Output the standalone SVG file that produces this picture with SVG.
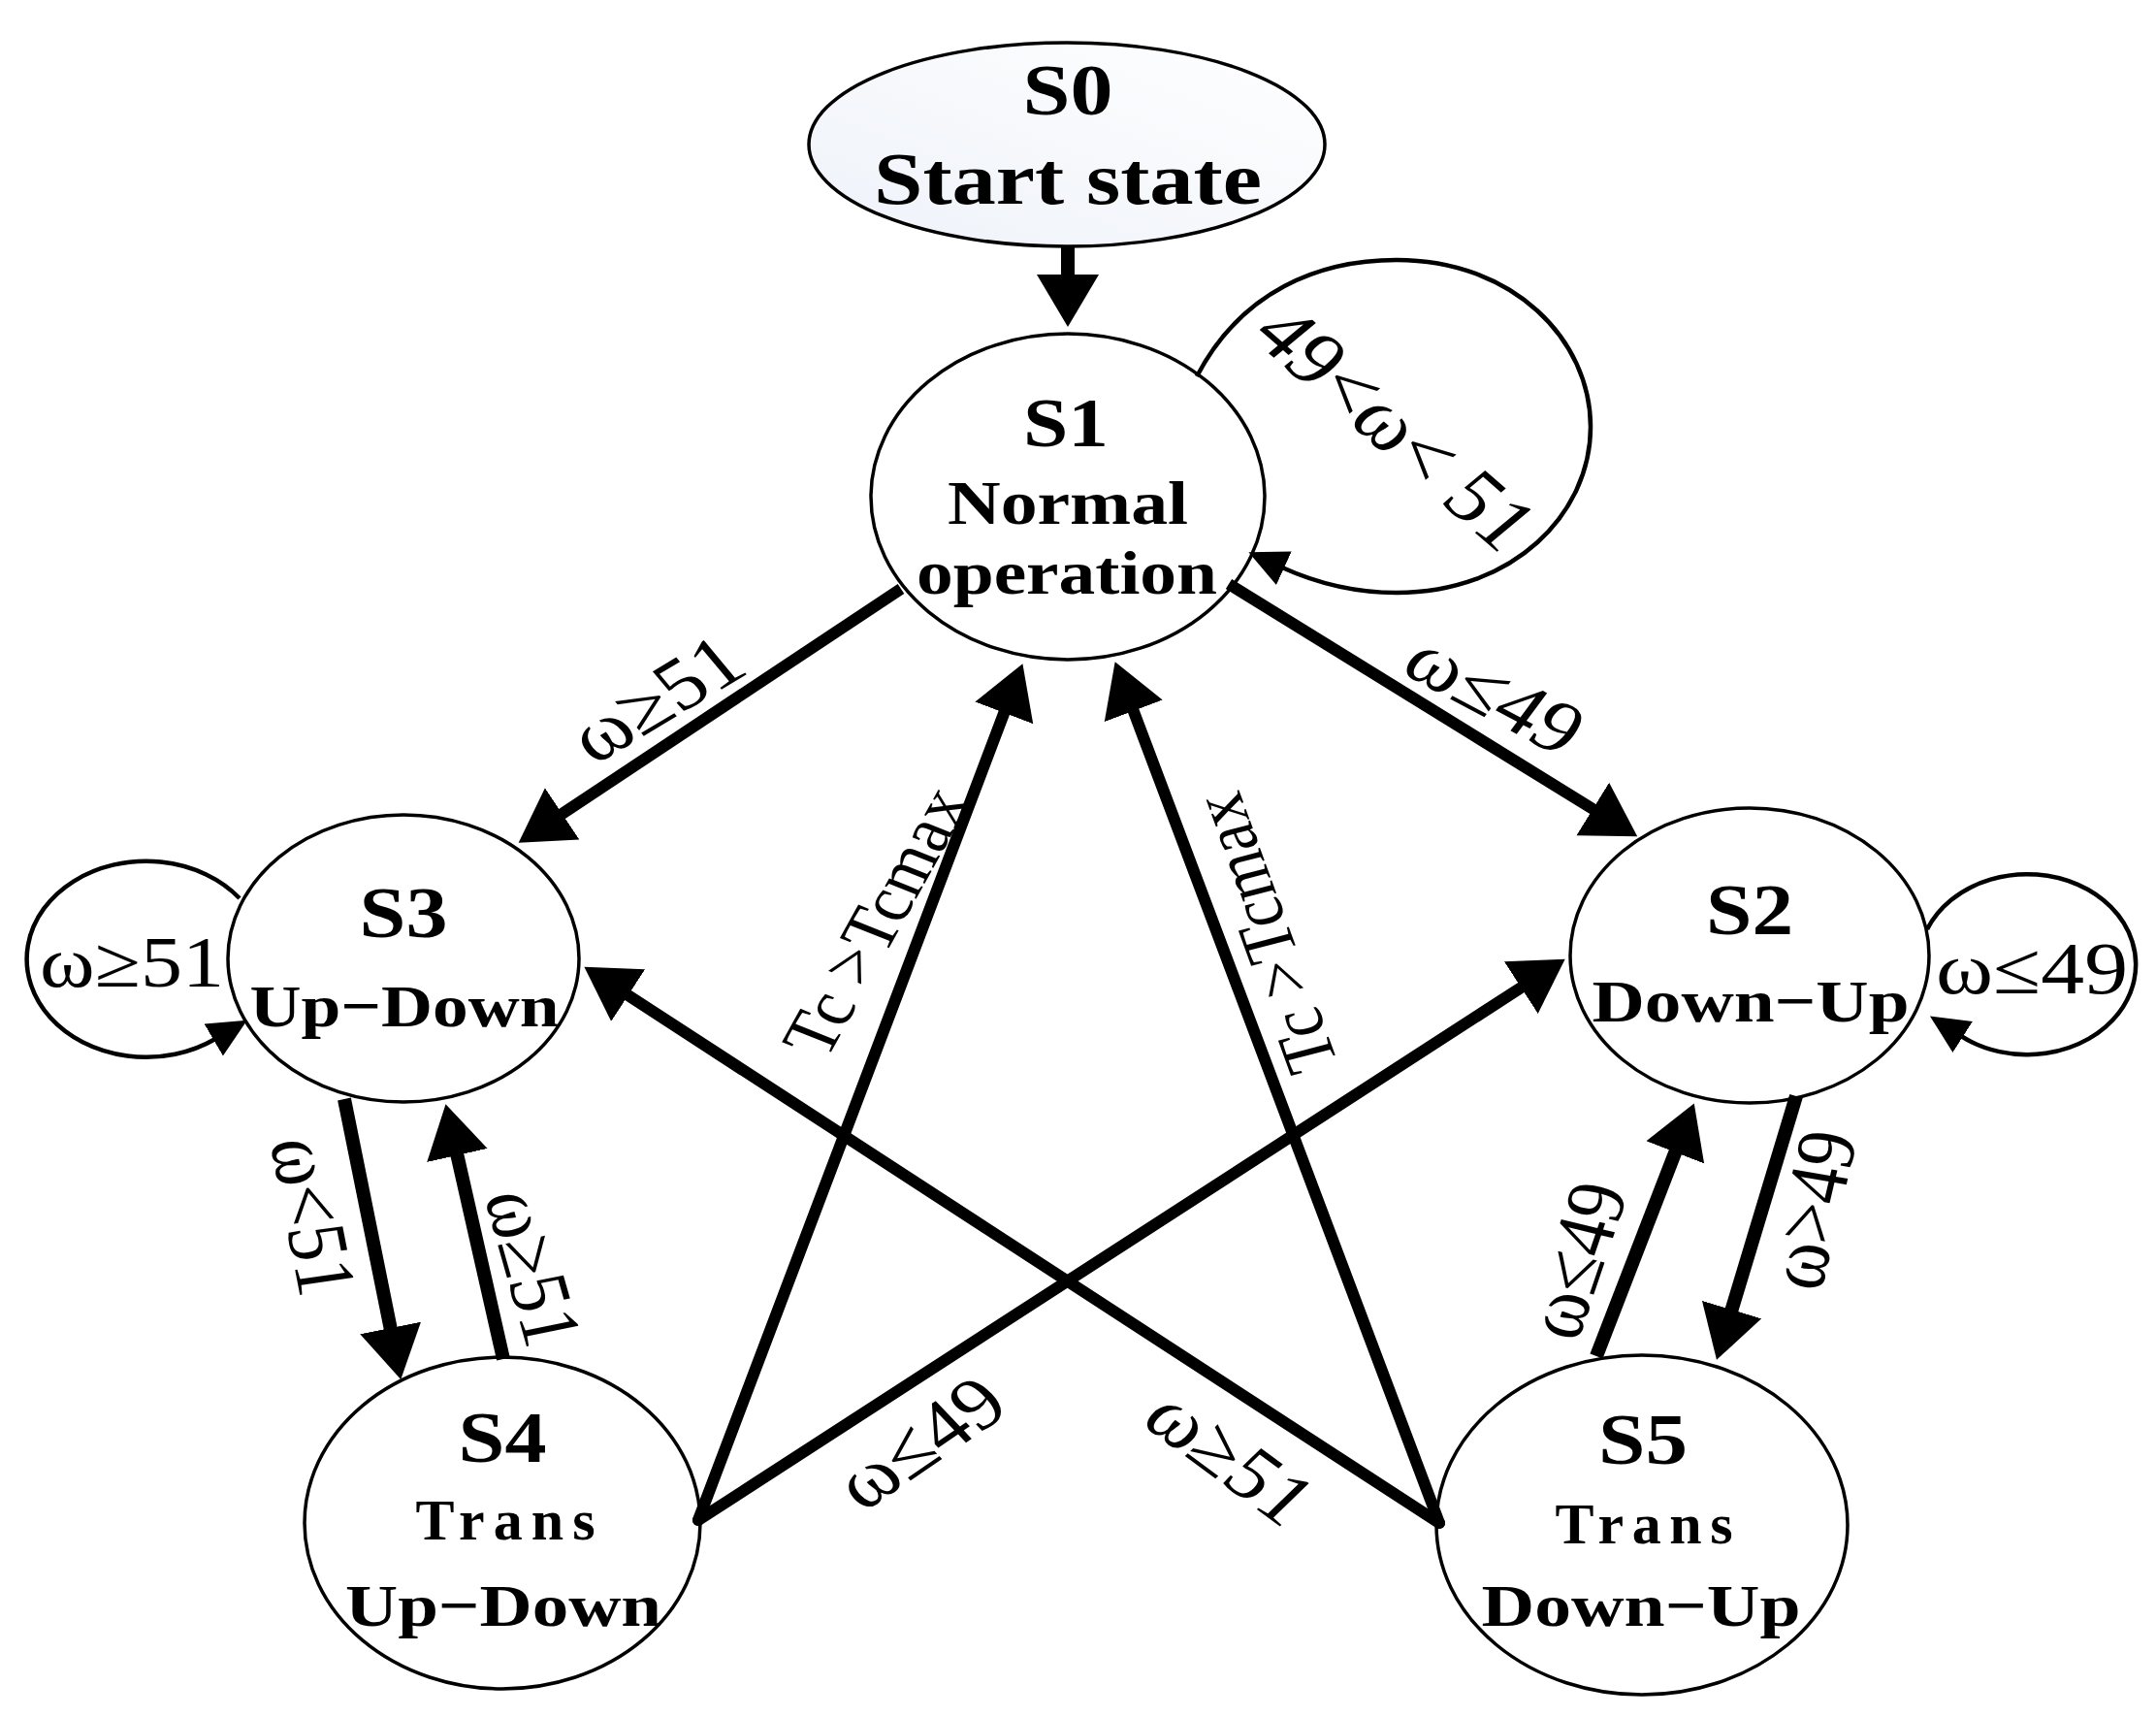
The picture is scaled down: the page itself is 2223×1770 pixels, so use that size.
<svg xmlns="http://www.w3.org/2000/svg" width="2223" height="1770" viewBox="0 0 2223 1770">
<style>
.node{fill:#ffffff;stroke:#000;stroke-width:3.5}
.nt{font-family:"Liberation Serif","Times New Roman",serif;font-weight:bold;text-anchor:middle;fill:#000}
.el{font-family:"Liberation Serif","Times New Roman",serif;text-anchor:middle;dominant-baseline:central;fill:#000}
.ar{fill:none;stroke:#000;stroke-width:12}
.arv{fill:none;stroke:#000;stroke-width:14}
.lp{fill:none;stroke:#000;stroke-width:4.5}
</style>
<defs>
<linearGradient id="g0" x1="0" y1="1" x2="1" y2="0">
<stop offset="0" stop-color="#eef2f9"/>
<stop offset="1" stop-color="#ffffff"/>
</linearGradient>
<marker id="ah" markerUnits="userSpaceOnUse" viewBox="-2 -33 56 66" refX="0" refY="0" markerWidth="56" markerHeight="66" orient="auto">
<path d="M-2,-32 L52,0 L-2,32 Z" fill="#000"/>
</marker>
<marker id="ahs" markerUnits="userSpaceOnUse" viewBox="-2 -20 42 40" refX="0" refY="0" markerWidth="42" markerHeight="40" orient="auto">
<path d="M-2,-19 L38,0 L-2,19 Z" fill="#000"/>
</marker>
</defs>
<rect width="2223" height="1770" fill="#ffffff"/>

<g id="S0">
<ellipse cx="1100" cy="149" rx="266" ry="105" fill="url(#g0)" stroke="#000" stroke-width="3.5"/>
<text class="nt" x="1101" y="118" font-size="74" textLength="93" lengthAdjust="spacingAndGlyphs">S0</text>
<text class="nt" x="1101" y="210" font-size="77" textLength="400" lengthAdjust="spacingAndGlyphs">Start state</text>
</g>
<g id="S1">
<ellipse class="node" cx="1101" cy="512" rx="203" ry="168"/>
<text class="nt" x="1099" y="460" font-size="72" textLength="88" lengthAdjust="spacingAndGlyphs">S1</text>
<text class="nt" x="1101" y="540" font-size="64" textLength="248" lengthAdjust="spacingAndGlyphs">Normal</text>
<text class="nt" x="1100" y="612" font-size="64" textLength="310" lengthAdjust="spacingAndGlyphs">operation</text>
</g>
<g id="S3">
<ellipse class="node" cx="416" cy="988" rx="181" ry="148"/>
<text class="nt" x="416" y="966" font-size="74" textLength="91" lengthAdjust="spacingAndGlyphs">S3</text>
<text class="nt" x="417" y="1058" font-size="62" textLength="319" lengthAdjust="spacingAndGlyphs">Up−Down</text>
</g>
<g id="S4">
<ellipse class="node" cx="518" cy="1570" rx="204" ry="171"/>
<text class="nt" x="518" y="1507" font-size="74" textLength="91" lengthAdjust="spacingAndGlyphs">S4</text>
<text class="nt" x="521" y="1587" font-size="60" textLength="185" lengthAdjust="spacing">Trans</text>
<text class="nt" x="519" y="1676" font-size="62" textLength="326" lengthAdjust="spacingAndGlyphs">Up−Down</text>
</g>
<g id="S2">
<ellipse class="node" cx="1804" cy="985" rx="185" ry="152"/>
<text class="nt" x="1804" y="963" font-size="74" textLength="90" lengthAdjust="spacingAndGlyphs">S2</text>
<text class="nt" x="1805" y="1053" font-size="62" textLength="327" lengthAdjust="spacingAndGlyphs">Down−Up</text>
</g>
<g id="S5">
<ellipse class="node" cx="1693" cy="1572" rx="212" ry="175"/>
<text class="nt" x="1694" y="1509" font-size="74" textLength="92" lengthAdjust="spacingAndGlyphs">S5</text>
<text class="nt" x="1695" y="1591" font-size="60" textLength="183" lengthAdjust="spacing">Trans</text>
<text class="nt" x="1692" y="1676" font-size="62" textLength="329" lengthAdjust="spacingAndGlyphs">Down−Up</text>
</g>

<g id="connectors">
<path class="arv" d="M1101,254 L1101,285" marker-end="url(#ah)"/>
<path class="ar" d="M929,607 L578,840" marker-end="url(#ah)"/>
<path class="ar" d="M1267,602 L1644,835" marker-end="url(#ah)"/>
<path class="arv" d="M355,1133 L403,1371" marker-end="url(#ah)"/>
<path class="arv" d="M519,1401 L471,1189" marker-end="url(#ah)"/>
<path class="arv" d="M1646,1398 L1728,1186" marker-end="url(#ah)"/>
<path class="arv" d="M1852,1130 L1785,1352" marker-end="url(#ah)"/>
<path class="ar" stroke-linecap="round" d="M720,1567 L1036,733" marker-end="url(#ah)"/>
<path class="ar" stroke-linecap="round" d="M1484,1570 L1168,731" marker-end="url(#ah)"/>
<path class="ar" stroke-linecap="round" d="M720,1567 L1570,1017" marker-end="url(#ah)"/>
<path class="ar" stroke-linecap="round" d="M1484,1570 L646,1025" marker-end="url(#ah)"/>
<path class="lp" d="M1234,388 C1280,300 1360,268 1440,268 C1560,268 1640,350 1640,440 C1640,530 1560,611 1440,611 C1395,611 1355,600 1322,585" marker-end="url(#ahs)"/>
<path class="lp" d="M247,926 A123,101 0 1,0 222,1071" marker-end="url(#ahs)"/>
<path class="lp" d="M1987,958 A112,93 0 1,1 2022,1068" marker-end="url(#ahs)"/>
</g>

<g id="labels">
<text class="el" font-size="78" transform="translate(1440 441) scale(1.18 1) rotate(45.7)">49&lt;ω&lt; 51</text>
<text class="el" font-size="76" transform="translate(676 720) scale(1.18 1) rotate(-35.3)">ω≥51</text>
<text class="el" font-size="76" transform="translate(1542 715) scale(1.18 1) rotate(32.1)">ω≤49</text>
<text class="el" font-size="74" transform="translate(323 1254) scale(1.18 1) rotate(80.6)">ω&lt;51</text>
<text class="el" font-size="74" transform="translate(550 1307) scale(1.18 1) rotate(76.5)">ω≥51</text>
<text class="el" font-size="74" transform="translate(1625 1299) scale(1.18 1) rotate(-74)">ω≤49</text>
<text class="el" font-size="74" transform="translate(1868 1247) scale(1.18 1) rotate(-78.7)">ω&gt;49</text>
<text class="el" font-size="76" transform="translate(948 1487) scale(1.18 1) rotate(-38.9)">ω≤49</text>
<text class="el" font-size="76" transform="translate(1269 1502) scale(1.18 1) rotate(41.1)">ω≥51</text>
<text class="el" font-size="66" transform="translate(903 950) scale(1.18 1) rotate(-64.8)">Tc &gt;Tcmax</text>
<text class="el" font-size="66" transform="translate(1304 962) scale(1.18 1) rotate(-107.1)">Tc &gt;Tcmax</text>
<text class="nt" style="font-weight:normal" x="136" y="1017" font-size="74" textLength="190" lengthAdjust="spacingAndGlyphs">ω≥51</text>
<text class="nt" style="font-weight:normal" x="2095" y="1024" font-size="76" textLength="198" lengthAdjust="spacingAndGlyphs">ω≤49</text>
</g>
</svg>
